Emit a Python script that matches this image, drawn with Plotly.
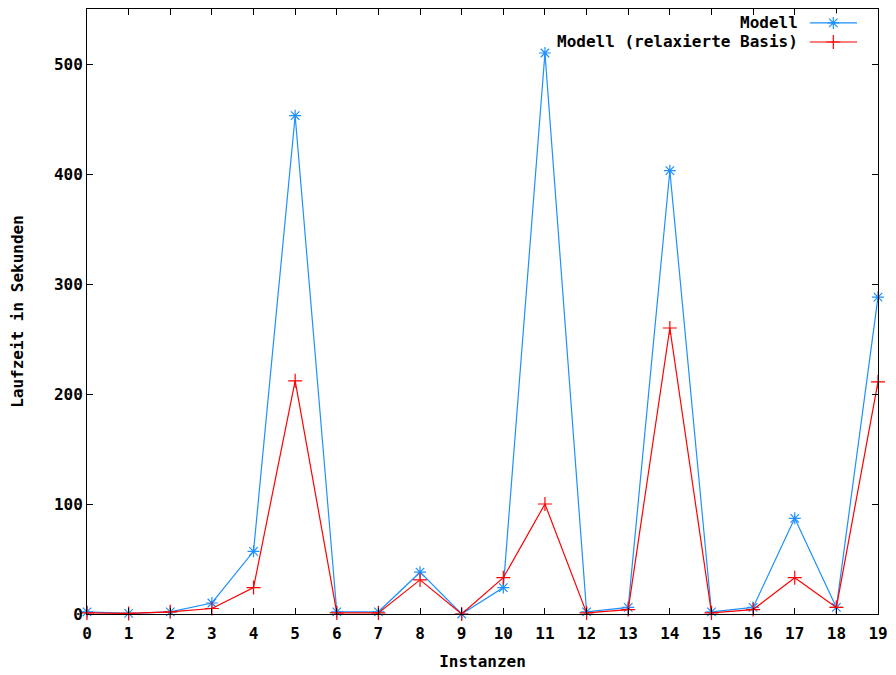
import plotly.graph_objects as go

instances = list(range(20))
modell = [2, 0.5, 2, 10, 57, 453, 2, 2, 38, 0, 24, 510, 2, 6, 403, 2, 6, 87, 6, 288]
modell_relax = [1, 0.5, 2, 5, 24, 212, 1, 1, 31, 0, 33, 100, 1, 4, 260, 1, 4, 33, 6, 211]
series_names = ["Modell", "Modell (relaxierte Basis)"]
colors = ["#1e90ff", "#ff0000"]
symbols = ["asterisk-open", "cross-thin-open"]

FONT = "DejaVu Sans Mono"
FS = 16

fig = go.Figure()
for name, vals, c, s in zip(series_names, [modell, modell_relax], colors, symbols):
    fig.add_trace(go.Scatter(
        x=instances, y=vals, mode="lines+markers", name=name,
        line=dict(color=c, width=1.2),
        marker=dict(symbol=s, size=10, color=c, line=dict(color=c, width=1.2)),
        showlegend=False, cliponaxis=False,
    ))

# legend samples drawn on a hidden helper axis (gnuplot style: text left of sample)
for i, (name, c, s) in enumerate(zip(series_names, colors, symbols)):
    yy = 1 - i
    fig.add_trace(go.Scatter(
        x=[0, 1], y=[yy, yy], mode="lines", line=dict(color=c, width=1.2),
        xaxis="x2", yaxis="y2", showlegend=False, hoverinfo="skip"))
    fig.add_trace(go.Scatter(
        x=[0.5], y=[yy], mode="markers",
        marker=dict(symbol=s, size=10, color=c, line=dict(color=c, width=1.2)),
        xaxis="x2", yaxis="y2", showlegend=False, hoverinfo="skip", cliponaxis=False))
    fig.add_annotation(
        x=0, y=yy, xref="x2", yref="y2", text="<b>%s</b>" % name,
        showarrow=False, xanchor="right", xshift=-10,
        font=dict(family=FONT, size=FS, color="black"))

axis_common = dict(
    showline=True, linecolor="black", linewidth=1, mirror="ticks",
    ticks="inside", ticklen=6, tickcolor="black", tickwidth=1,
    showgrid=False, zeroline=False,
    tickfont=dict(family=FONT, size=FS, color="black"),
)

fig.update_layout(
    width=896, height=675,
    margin=dict(l=87, r=15, t=8, b=61),
    paper_bgcolor="white", plot_bgcolor="white",
    xaxis=dict(range=[0, 19], tickvals=instances, ticktext=[f"<b>{v}</b>" for v in instances],
               ticklabelstandoff=5,
               title=dict(text="<b>Instanzen</b>", font=dict(family=FONT, size=FS, color="black"),
                          standoff=13),
               **axis_common),
    yaxis=dict(range=[0, 550], tickvals=[0, 100, 200, 300, 400, 500],
               ticktext=[f"<b>{v}</b>" for v in [0, 100, 200, 300, 400, 500]],
               title=dict(text="<b>Laufzeit in Sekunden</b>", font=dict(family=FONT, size=FS, color="black"),
                          standoff=26),
               **axis_common),
    xaxis2=dict(domain=[0.9135, 0.9735], range=[0, 1], visible=False, anchor="y2"),
    yaxis2=dict(domain=[0.92975, 0.99275], range=[-0.5, 1.5], visible=False, anchor="x2"),
)

fig.write_html("out.html")
